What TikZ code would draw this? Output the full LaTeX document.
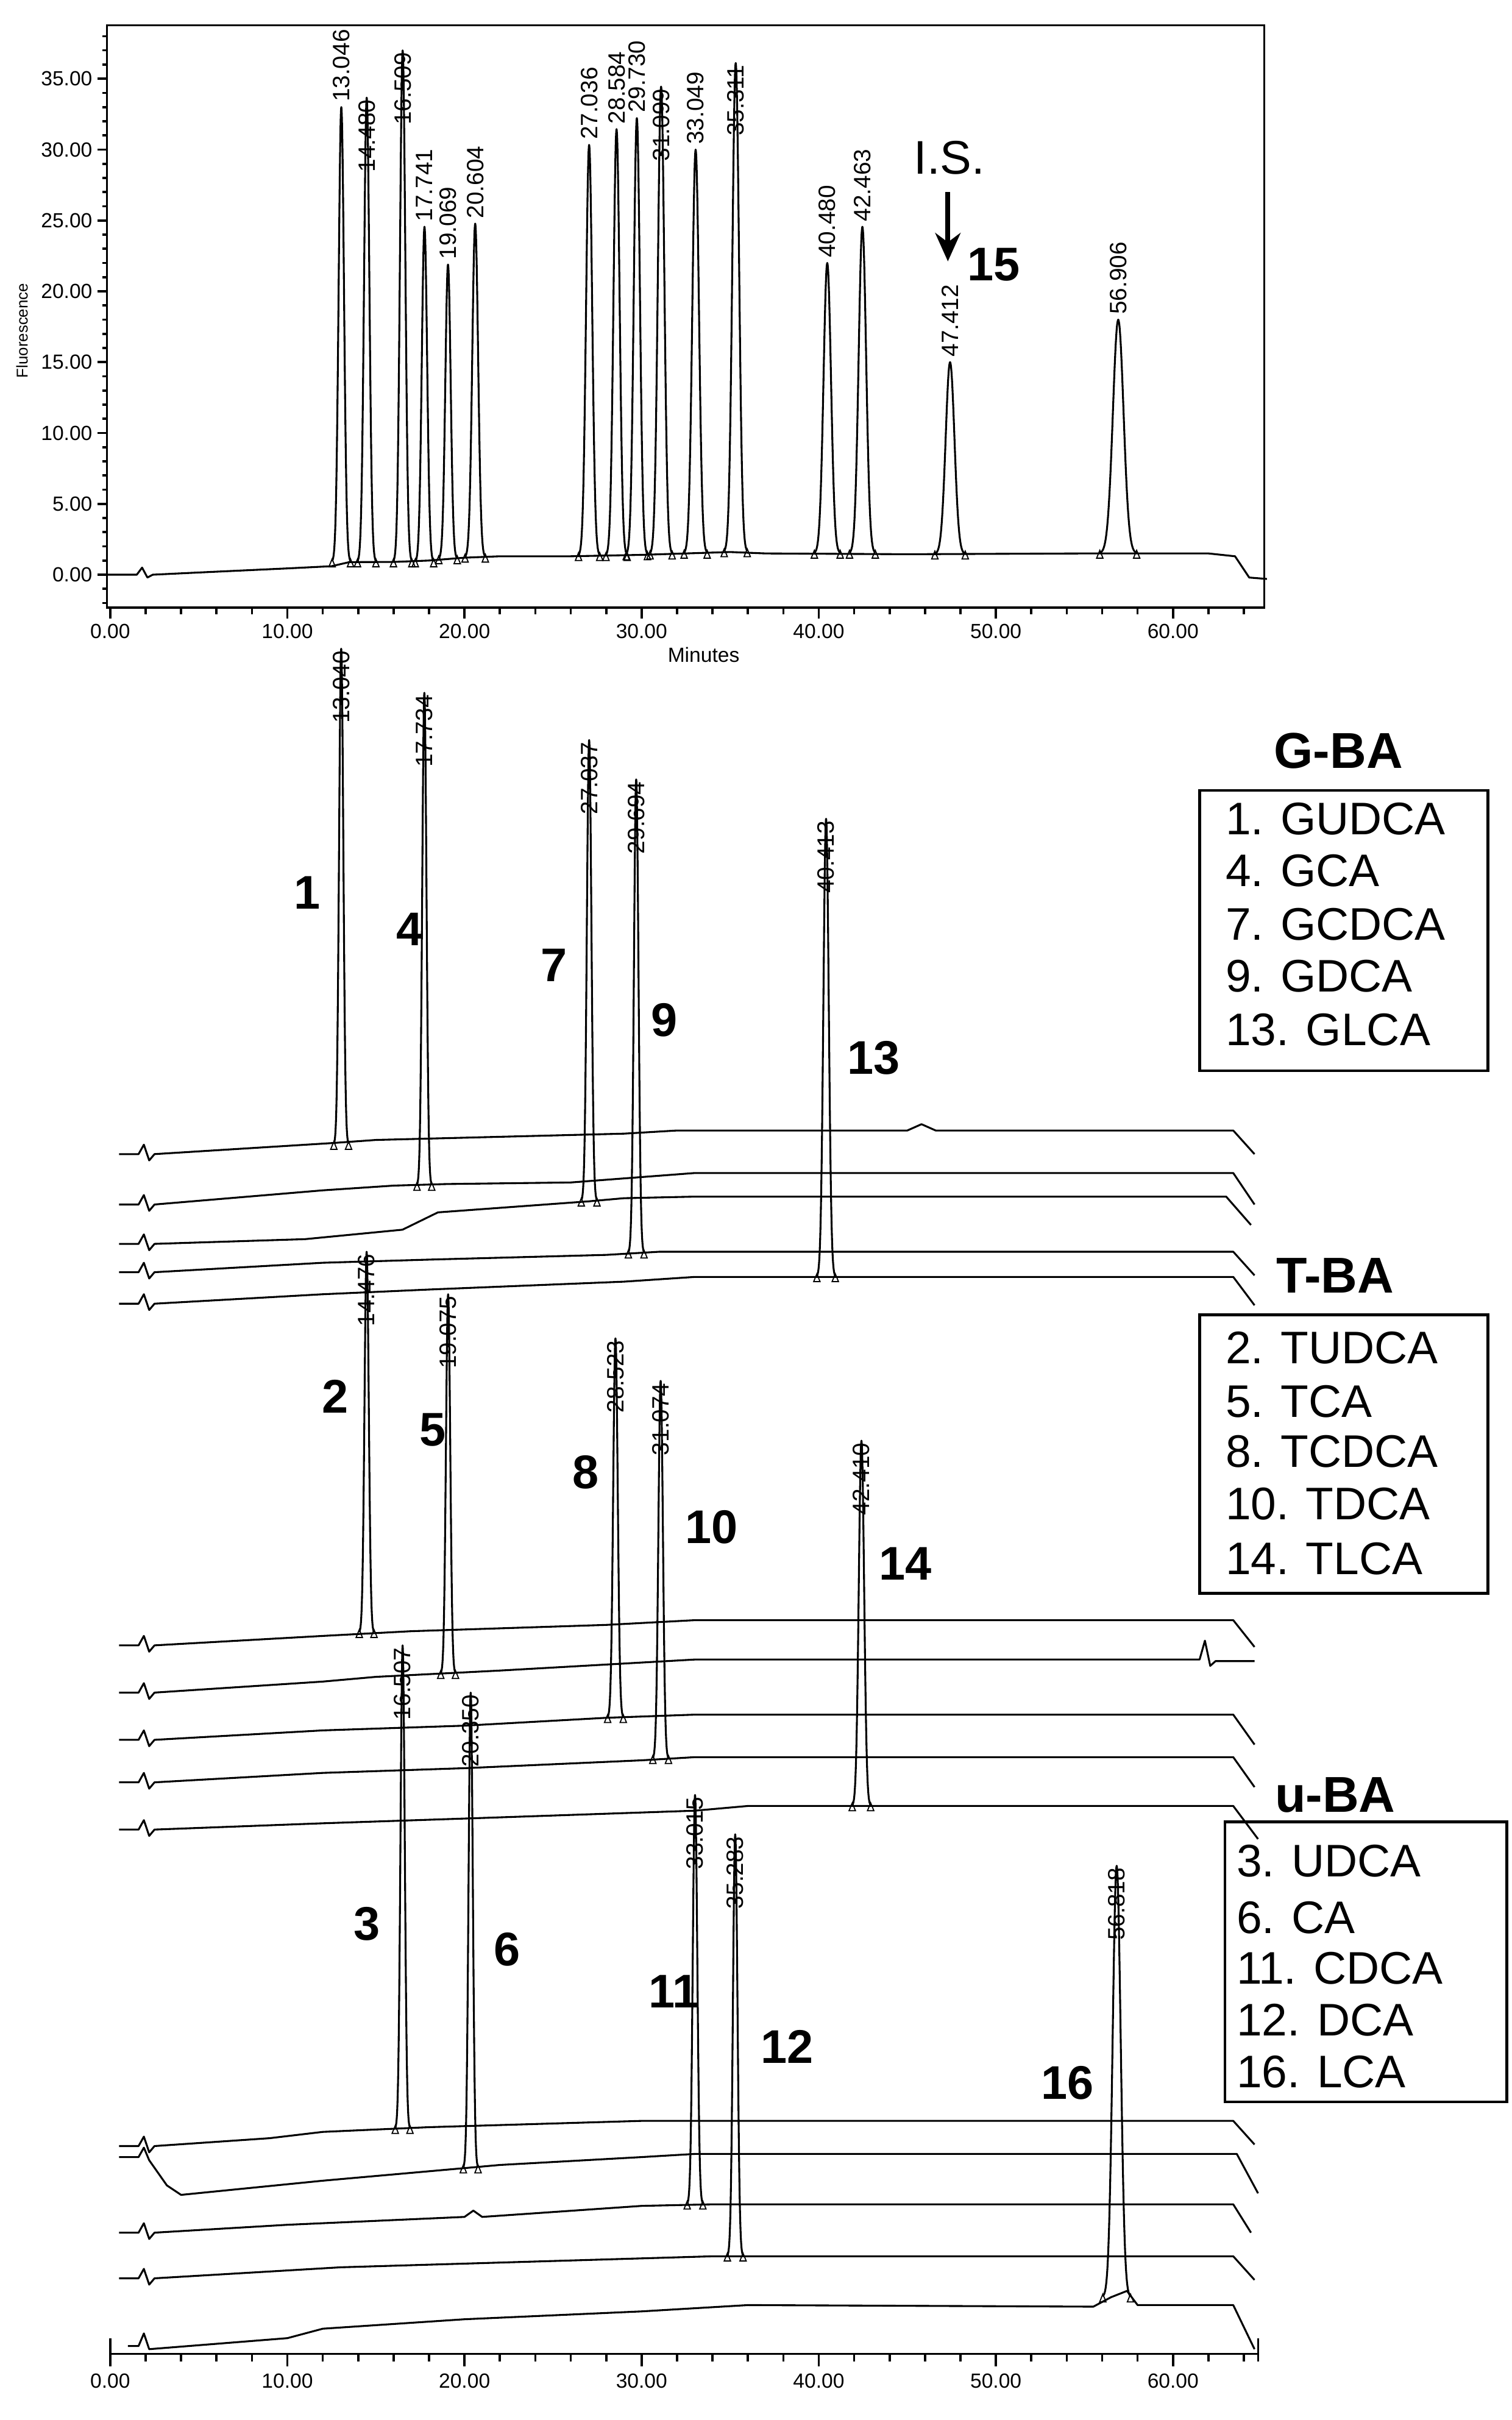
\documentclass[tikz,border=0pt]{standalone}
\usepackage{fontspec}
\setmainfont{Liberation Sans}
\usetikzlibrary{arrows.meta}
\newcommand{\pk}[4]{%
 \draw[tr] plot[domain=-3.5:3.5,samples=31,smooth] ({#1+0.75*#4*\x},{#2-(#2-(#3))*exp(-0.5*\x*\x)});
 \draw[mk] ({#1-2.6*#4-0.18},{#2+3}) -- ++(0.36,0) -- ++(-0.18,-5) -- cycle;
 \draw[mk] ({#1+2.6*#4-0.18},{#2+3}) -- ++(0.36,0) -- ++(-0.18,-5) -- cycle;}
\newcommand{\lw}[3]{\node[lab,anchor=west] at (#1,{#2-2}) {#3};}
\newcommand{\ls}[3]{\node[lab,anchor=east] at (#1,#2) {#3};}
\begin{document}
\begin{tikzpicture}[x=0.5pt,y=-0.5pt,
 tr/.style={line width=0.6pt,line join=round},
 ax/.style={line width=0.7pt},
 mk/.style={line width=0.35pt},
 lab/.style={font=\fontsize{7.5}{7.5}\selectfont,inner sep=0.5pt,rotate=90},
 tk/.style={font=\fontsize{6.5}{6.5}\selectfont,inner sep=1pt},
 num/.style={font=\fontsize{15}{15}\selectfont\bfseries},
 leg/.style={font=\fontsize{14.5}{14.5}\selectfont,anchor=west,inner sep=0pt},
 ttl/.style={font=\fontsize{16}{16}\selectfont\bfseries},
 box/.style={line width=0.9pt}]
\useasboundingbox (0,0) rectangle (960,1537);
% ---------- top chart frame ----------
\draw[ax] (68,16) rectangle (803,386);
\foreach \v in {-2,...,38} \draw[ax] (68,{365-9*\v}) -- (65,{365-9*\v});
\foreach \v in {0,5,...,35} {\draw[ax] (68,{365-9*\v}) -- (62,{365-9*\v});
 \node[tk,anchor=east] at (61,{365-9*\v}) {\v.00};}
\node[font=\fontsize{5}{5}\selectfont,rotate=90] at (14,210) {Fluorescence};
\begin{scope}[xshift=35pt,x=5.625pt]
\foreach \m in {0,2,...,64} \draw[ax] (\m,386) -- (\m,390);
\foreach \m in {0,10,...,60} {\draw[ax] (\m,386) -- (\m,393); \node[tk] at (\m,401) {\m.00};}
\node[tk] at (33.5,416) {Minutes};
\draw[tr] (-0.2,365) -- (1.5,365) -- (1.8,360.5) -- (2.1,366.8) -- (2.4,365) -- (5,363.6) -- (10,361) -- (12.5,359.6) -- (13.5,357) -- (16,356.9) -- (18,356) -- (20,354.2) -- (22,353.3) -- (26,353.3) -- (30,352.4) -- (35,350.6) -- (37,351.5) -- (45,352) -- (55,351.5) -- (62,351.5) -- (63.5,353.3) -- (64.3,366.8) -- (65.3,367.7);
\pk{13.046}{357}{68}{0.2}\lw{13.046}{68}{13.046}
\pk{14.480}{357}{62}{0.2}\ls{14.480}{62}{14.480}
\pk{16.509}{357}{32}{0.2}\ls{16.509}{32}{16.509}
\pk{17.741}{357}{144}{0.2}\lw{17.741}{144}{17.741}
\pk{19.069}{355}{168}{0.2}\lw{19.069}{168}{19.069}
\pk{20.604}{354}{142}{0.22}\lw{20.604}{142}{20.604}
\pk{27.036}{353}{92}{0.23}\lw{27.036}{92}{27.036}
\pk{28.584}{353}{82}{0.23}\lw{28.584}{82}{28.584}
\pk{29.730}{352.5}{75}{0.23}\lw{29.730}{75}{29.730}
\pk{31.099}{352}{55}{0.24}\ls{31.099}{55}{31.099}
\pk{33.049}{351.5}{95}{0.25}\lw{33.049}{95}{33.049}
\pk{35.311}{350.6}{40}{0.25}\ls{35.311}{40}{35.311}
\pk{40.480}{351.5}{167}{0.28}\lw{40.480}{167}{40.480}
\pk{42.463}{351.5}{144}{0.28}\lw{42.463}{144}{42.463}
\pk{47.412}{352}{230}{0.33}\lw{47.412}{230}{47.412}
\pk{56.906}{351.5}{203}{0.4}\lw{56.906}{203}{56.906}
% ---------- bottom panel ----------
\draw[ax] (0,1495) -- (64.8,1495);
\draw[ax] (0,1485) -- (0,1500);
\draw[ax] (64.8,1485) -- (64.8,1500);
\foreach \m in {0,2,...,64} \draw[ax] (\m,1495) -- (\m,1500);
\foreach \m in {0,10,...,60} {\draw[ax] (\m,1495) -- (\m,1503); \node[tk] at (\m,1512) {\m.00};}
% G-BA traces
\draw[tr] (0.5,733) -- (1.6,733) -- (1.9,727) -- (2.2,737) -- (2.5,733) -- (12.5,726) -- (15,724) -- (22,722) -- (29,720) -- (32,718) -- (45,718) -- (45.8,714) -- (46.6,718) -- (63.4,718) -- (64.6,733);
\draw[tr] (0.5,765) -- (1.6,765) -- (1.9,759) -- (2.2,769) -- (2.5,765) -- (12,756) -- (16,753) -- (19,752) -- (26,751) -- (33,745) -- (63.4,745) -- (64.6,765);
\draw[tr] (0.5,790) -- (1.6,790) -- (1.9,784) -- (2.2,794) -- (2.5,790) -- (11,787) -- (16.5,781) -- (18.5,770) -- (27,763) -- (29,761) -- (33,760) -- (63,760) -- (64.4,778);
\draw[tr] (0.5,808) -- (1.6,808) -- (1.9,802) -- (2.2,812) -- (2.5,808) -- (12,802) -- (18,800) -- (28,797) -- (31,795) -- (63.4,795) -- (64.6,810);
\draw[tr] (0.5,828) -- (1.6,828) -- (1.9,822) -- (2.2,832) -- (2.5,828) -- (12,822) -- (18,819) -- (29,814) -- (33,811) -- (63.4,811) -- (64.6,829);
\pk{13.040}{727}{412}{0.16}\ls{13.040}{412}{13.040}
\pk{17.734}{753}{440}{0.16}\ls{17.734}{440}{17.734}
\pk{27.037}{763}{470}{0.17}\ls{27.037}{470}{27.037}
\pk{29.694}{796}{495}{0.17}\ls{29.694}{495}{29.694}
\pk{40.413}{811}{520}{0.2}\ls{40.413}{520}{40.413}
% T-BA traces
\draw[tr] (0.5,1045) -- (1.6,1045) -- (1.9,1039) -- (2.2,1049) -- (2.5,1045) -- (12,1039) -- (17,1036) -- (28,1032) -- (33,1029) -- (63.4,1029) -- (64.6,1046);
\draw[tr] (0.5,1075) -- (1.6,1075) -- (1.9,1069) -- (2.2,1079) -- (2.5,1075) -- (12,1068) -- (15,1065) -- (22,1061) -- (33,1054) -- (61.5,1054) -- (61.8,1042) -- (62.1,1058) -- (62.4,1055) -- (64.6,1055);
\draw[tr] (0.5,1105) -- (1.6,1105) -- (1.9,1099) -- (2.2,1109) -- (2.5,1105) -- (12,1099) -- (20,1096) -- (28,1091) -- (33,1089) -- (63.4,1089) -- (64.6,1108);
\draw[tr] (0.5,1132) -- (1.6,1132) -- (1.9,1126) -- (2.2,1136) -- (2.5,1132) -- (12,1126) -- (20,1123) -- (30,1118) -- (33,1116) -- (63.4,1116) -- (64.6,1135);
\draw[tr] (0.5,1162) -- (1.6,1162) -- (1.9,1156) -- (2.2,1166) -- (2.5,1162) -- (12,1158) -- (20,1155) -- (33,1150) -- (36,1147) -- (63.4,1147) -- (64.8,1168);
\pk{14.476}{1037}{795}{0.16}\ls{14.476}{795}{14.476}
\pk{19.075}{1063}{822}{0.16}\ls{19.075}{822}{19.075}
\pk{28.523}{1091}{850}{0.17}\ls{28.523}{850}{28.523}
\pk{31.074}{1117}{877}{0.17}\ls{31.074}{877}{31.074}
\pk{42.410}{1147}{915}{0.2}\ls{42.410}{915}{42.410}
% u-BA traces
\draw[tr] (0.5,1363) -- (1.6,1363) -- (1.9,1357) -- (2.2,1367) -- (2.5,1363) -- (9,1358) -- (12,1354) -- (18,1351) -- (24,1349) -- (30,1347) -- (63.4,1347) -- (64.6,1362);
\draw[tr] (0.5,1370) -- (1.6,1370) -- (1.9,1364) -- (2.2,1372) -- (3.2,1388) -- (4,1394) -- (12,1385) -- (16,1381) -- (22,1375) -- (30,1370) -- (33,1368) -- (63.6,1368) -- (64.8,1393);
\draw[tr] (0.5,1418) -- (1.6,1418) -- (1.9,1412) -- (2.2,1422) -- (2.5,1418) -- (10,1413) -- (20,1408) -- (20.5,1404) -- (21,1408) -- (30,1401) -- (34,1400) -- (63.4,1400) -- (64.4,1418);
\draw[tr] (0.5,1447) -- (1.6,1447) -- (1.9,1441) -- (2.2,1451) -- (2.5,1447) -- (10,1442) -- (13,1440) -- (25,1436) -- (34,1433) -- (63.4,1433) -- (64.6,1448);
\draw[tr] (1,1490) -- (1.6,1490) -- (1.9,1482) -- (2.2,1492) -- (10,1485) -- (12,1479) -- (20,1473) -- (30,1468) -- (36,1464) -- (55.5,1465) -- (56.5,1459) -- (57.4,1455) -- (58,1464) -- (63.4,1464) -- (64.6,1492);
\pk{16.507}{1352}{1045}{0.16}\ls{16.507}{1045}{16.507}
\pk{20.350}{1377}{1075}{0.16}\ls{20.350}{1075}{20.350}
\pk{33.015}{1400}{1140}{0.17}\ls{33.015}{1140}{33.015}
\pk{35.283}{1433}{1165}{0.17}\ls{35.283}{1165}{35.283}
\pk{56.818}{1459}{1185}{0.3}\ls{56.818}{1185}{56.818}
\end{scope}
% ---------- annotations ----------
\node[font=\fontsize{15}{15}\selectfont] (is) at (603,100) {I.S.};
\coordinate (isa) at (602,122);
\coordinate (isb) at (602,166);
\draw[line width=1.6pt,-{Stealth[length=9pt,width=8pt]}] (isa) -- (isb);
\node[num] (n15) at (631,168) {15};
\foreach \t/\xx/\yy in {1/195/567,4/260/590,7/352/613,9/422/648,13/555/672,2/213/887,5/275/908,8/372/935,10/452/970,14/575/993,3/233/1222,6/322/1238,11/428/1265,12/500/1300,16/678/1323}
 \node[num] at (\xx,\yy) {\t};
% legends
\node[ttl] (g) at (850,477) {G-BA};
\draw[box] (762,502) rectangle (945,680);
\node[leg] at (778,520) {1. GUDCA};
\node[leg] at (778,553) {4. GCA};
\node[leg] at (778,587) {7. GCDCA};
\node[leg] at (778,620) {9. GDCA};
\node[leg] at (778,654) {13. GLCA};
\node[ttl] (t) at (848,810) {T-BA};
\draw[box] (762,835) rectangle (945,1012);
\node[leg] at (778,856) {2. TUDCA};
\node[leg] at (778,890) {5. TCA};
\node[leg] at (778,922) {8. TCDCA};
\node[leg] at (778,955) {10. TDCA};
\node[leg] at (778,990) {14. TLCA};
\node[ttl] (u) at (848,1140) {u-BA};
\draw[box] (778,1157) rectangle (957,1335);
\node[leg] at (785,1182) {3. UDCA};
\node[leg] at (785,1218) {6. CA};
\node[leg] at (785,1250) {11. CDCA};
\node[leg] at (785,1283) {12. DCA};
\node[leg] at (785,1316) {16. LCA};
\end{tikzpicture}
\end{document}
